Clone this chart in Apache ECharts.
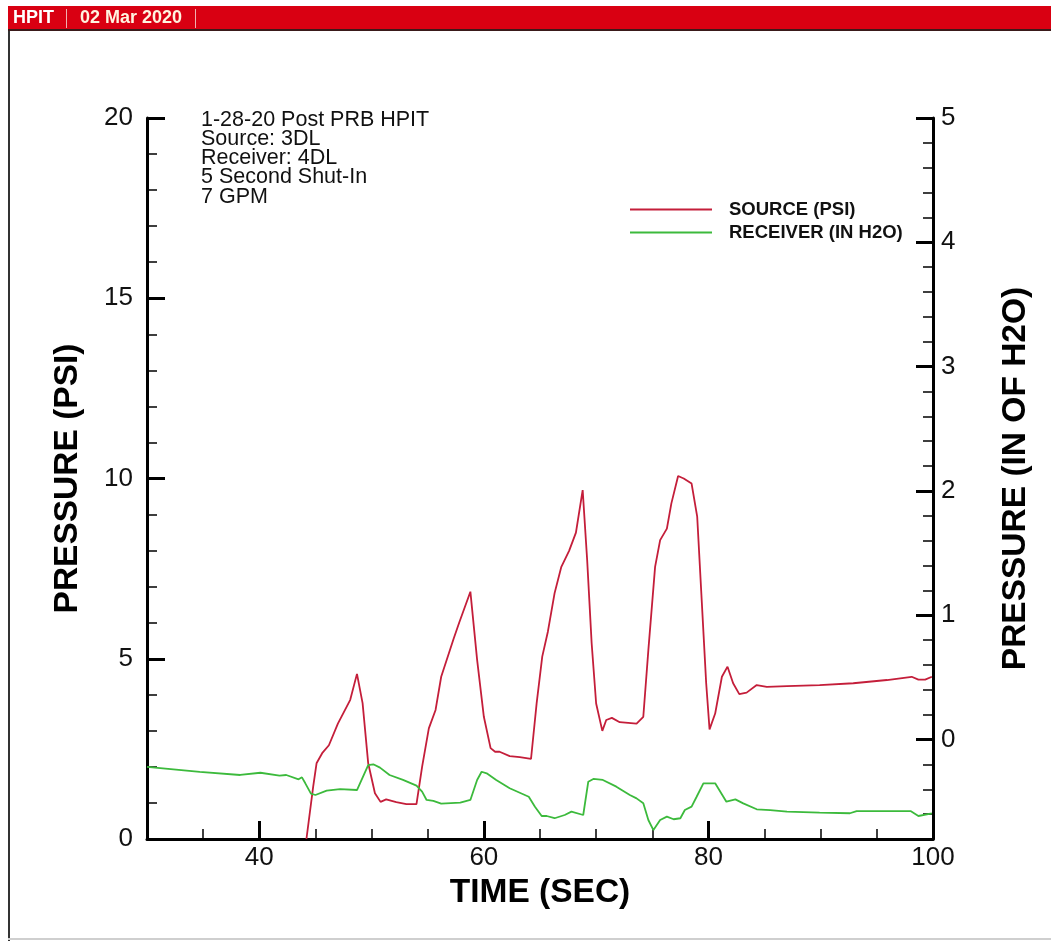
<!DOCTYPE html>
<html>
<head>
<meta charset="utf-8">
<script src="https://cdn.jsdelivr.net/npm/echarts@6/dist/echarts.min.js"></script>
<style>
  html, body { margin: 0; padding: 0; background: #ffffff; }
  #chart { width: 1051px; height: 941px; }
</style>
</head>
<body>
<div id="chart"></div>
<script>
// ---- data ----
const sourceTime = [44.2, 44.8, 45.1, 45.6, 46.2, 47.0, 48.1, 48.7, 49.2, 49.7, 50.3, 50.8, 51.3, 52.2, 53.1, 54.0,
  54.5, 55.1, 55.7, 56.2, 57.3, 57.8, 58.8, 59.4, 60.0, 60.6, 61.0, 61.4, 62.3, 63.2, 64.2,
  64.7, 65.2, 65.7, 66.3, 66.9, 67.6, 68.2, 68.8, 69.2, 69.6, 70.0, 70.55, 70.9, 71.4, 72.1, 73.6,
  74.2, 74.65, 75.25, 75.7, 76.3, 76.7, 77.3, 77.8, 78.5, 79.0, 79.4, 79.8, 80.1, 80.6, 81.2, 81.7,
  82.2, 82.75, 83.4, 84.3, 85.2, 87.0, 89.9, 92.9, 95.9, 98.1, 98.7, 99.3, 99.9];
const sourcePsi = [0.0, 1.45, 2.1, 2.38, 2.6, 3.2, 3.86, 4.58, 3.77, 2.1, 1.27, 1.03, 1.1, 1.02, 0.97, 0.97,
  2.0, 3.07, 3.58, 4.5, 5.55, 6.0, 6.86, 4.97, 3.39, 2.52, 2.42, 2.42, 2.3, 2.27, 2.22,
  3.76, 5.06, 5.75, 6.82, 7.55, 8.0, 8.5, 9.68, 7.74, 5.43, 3.76, 3.0, 3.3, 3.36, 3.24, 3.2,
  3.39, 5.24, 7.55, 8.29, 8.61, 9.31, 10.07, 10.0, 9.86, 8.94, 6.63, 4.32, 3.04, 3.48, 4.5, 4.78,
  4.32, 4.02, 4.06, 4.27, 4.22, 4.24, 4.27, 4.32, 4.41, 4.5, 4.42, 4.42, 4.5];

const receiverTime = [30.0, 34.7, 38.3, 40.1, 41.8, 42.4, 43.5, 43.8, 44.1, 44.6, 45.0, 46.0, 47.2, 48.7,
  49.7, 50.15, 50.75, 51.6, 52.8, 54.0, 54.5, 54.9, 55.5, 56.2, 57.9, 58.8, 59.4, 59.8, 60.25,
  61.1, 62.3, 64.0, 64.55, 65.15, 65.6, 66.3, 67.2, 67.8, 68.85, 69.3, 69.75, 70.6, 71.8, 73.0,
  73.6, 74.2, 74.65, 75.1, 75.7, 76.3, 76.9, 77.5, 77.9, 78.5, 78.95, 79.55, 80.6, 81.6, 82.4,
  83.1, 84.3, 85.5, 87.0, 89.9, 92.6, 93.2, 98.0, 98.7, 99.9];
const receiverH2O = [-0.22, -0.26, -0.285, -0.267, -0.29, -0.285, -0.32, -0.304, -0.352, -0.435, -0.446, -0.411, -0.398, -0.406,
  -0.205, -0.199, -0.226, -0.285, -0.325, -0.371, -0.419, -0.486, -0.494, -0.515, -0.508, -0.486, -0.325, -0.259, -0.272,
  -0.325, -0.392, -0.46, -0.54, -0.615, -0.615, -0.633, -0.607, -0.58, -0.607, -0.339, -0.317, -0.325, -0.379, -0.446,
  -0.473, -0.513, -0.647, -0.728, -0.647, -0.62, -0.641, -0.633, -0.567, -0.54, -0.46, -0.352, -0.352, -0.5, -0.481,
  -0.513, -0.561, -0.567, -0.58, -0.588, -0.593, -0.575, -0.575, -0.615, -0.593];

const seriesNames = ['SOURCE (PSI)', 'RECEIVER (IN H2O)'];
const xMajorTicks = [40, 60, 80, 100];
const xMinorTicks = [35, 45, 50, 55, 65, 70, 75, 85, 90, 95];
const yRightMajorTicks = [0, 1, 2, 3, 4, 5];
const yRightMinorTicks = [-0.6, -0.4, -0.2, 0.2, 0.4, 0.6, 0.8, 1.2, 1.4, 1.6, 1.8, 2.2, 2.4, 2.6, 2.8,
  3.2, 3.4, 3.6, 3.8, 4.2, 4.4, 4.6, 4.8];
const noteLines = ['1-28-20 Post PRB HPIT', 'Source: 3DL', 'Receiver: 4DL', '5 Second Shut-In', '7 GPM'];
const headerTitle = 'HPIT';
const headerDate = '02 Mar 2020';

// ---- chart ----
const FONT = '"Liberation Sans", Arial, Helvetica, sans-serif';
const chart = echarts.init(document.getElementById('chart'), null, { renderer: 'canvas' });

const sourceData = sourceTime.map((t, i) => [t, sourcePsi[i]]);
const receiverData = receiverTime.map((t, i) => [t, receiverH2O[i]]);

const axisLineStyle = { color: '#000', width: 3 };
const titleStyle = { fontFamily: FONT, fontSize: 33.5, fontWeight: 'bold', color: '#000' };

chart.setOption({
  animation: false,
  backgroundColor: '#ffffff',
  textStyle: { fontFamily: FONT },
  grid: { left: 147, right: 118, top: 118, bottom: 102, containLabel: false },
  title: {
    text: noteLines.join('\n'),
    left: 196, top: 105,
    textStyle: { fontFamily: FONT, fontSize: 21.5, fontWeight: 'normal', color: '#111', lineHeight: 19.3 }
  },
  legend: {
    data: seriesNames,
    orient: 'vertical',
    left: 630, top: 200, padding: 0,
    itemWidth: 82, itemHeight: 2, itemGap: 4,
    icon: 'rect',
    textStyle: { fontFamily: FONT, fontSize: 18.5, fontWeight: 'bold', color: '#111', padding: [0, 0, 0, 12] }
  },
  xAxis: [
    {
      type: 'value', min: 30, max: 100, position: 'bottom',
      axisLine: { onZero: false, lineStyle: axisLineStyle },
      axisTick: { inside: true, length: 10, lineStyle: { color: '#000', width: 1.5 }, customValues: xMinorTicks },
      axisLabel: { customValues: xMajorTicks, fontSize: 26, color: '#111', margin: 6, fontFamily: FONT },
      splitLine: { show: false },
      name: 'TIME (SEC)', nameLocation: 'middle', nameGap: 28,
      nameTextStyle: titleStyle
    },
    {
      type: 'value', min: 30, max: 100, position: 'bottom',
      axisLine: { show: false, onZero: false },
      axisTick: { inside: true, length: 18, lineStyle: { color: '#000', width: 3 }, customValues: xMajorTicks },
      axisLabel: { show: false },
      splitLine: { show: false }
    }
  ],
  yAxis: [
    {
      type: 'value', min: 0, max: 20, interval: 5, position: 'left',
      axisLine: { show: true, onZero: false, lineStyle: axisLineStyle },
      axisTick: { show: true, inside: true, length: 18, lineStyle: { color: '#000', width: 3 } },
      minorTick: { show: true, splitNumber: 5, length: 10, lineStyle: { color: '#000', width: 1.5 } },
      axisLabel: { fontSize: 26, color: '#111', margin: 14, fontFamily: FONT },
      splitLine: { show: false },
      name: 'PRESSURE (PSI)', nameLocation: 'middle', nameGap: 62,
      nameTextStyle: titleStyle
    },
    {
      type: 'value', min: -0.8, max: 5, position: 'right',
      axisLine: { show: true, onZero: false, lineStyle: axisLineStyle },
      axisTick: { show: true, inside: true, length: 17, lineStyle: { color: '#000', width: 3 }, customValues: yRightMajorTicks },
      axisLabel: { customValues: yRightMajorTicks, fontSize: 26, color: '#111', margin: 8, fontFamily: FONT },
      splitLine: { show: false },
      name: 'PRESSURE (IN OF H2O)', nameLocation: 'middle', nameGap: 66,
      nameTextStyle: titleStyle
    },
    {
      type: 'value', min: -0.8, max: 5, position: 'right',
      axisLine: { show: false, onZero: false },
      axisTick: { show: true, inside: true, length: 10, lineStyle: { color: '#000', width: 1.5 }, customValues: yRightMinorTicks },
      axisLabel: { show: false },
      splitLine: { show: false }
    }
  ],
  series: [
    {
      name: seriesNames[0], type: 'line', xAxisIndex: 0, yAxisIndex: 0,
      data: sourceData, showSymbol: false, symbol: 'none',
      color: '#c41e3a', lineStyle: { color: '#c41e3a', width: 1.8 }
    },
    {
      name: seriesNames[1], type: 'line', xAxisIndex: 0, yAxisIndex: 1,
      data: receiverData, showSymbol: false, symbol: 'none',
      color: '#3cba3c', lineStyle: { color: '#3cba3c', width: 1.8 }
    }
  ],
  graphic: [
    { type: 'rect', left: 8, top: 6, shape: { width: 1043, height: 24 }, style: { fill: '#d90012' }, z: 10 },
    { type: 'rect', left: 8, top: 29, shape: { width: 1043, height: 2 }, style: { fill: '#3a1a1a' }, z: 11 },
    { type: 'rect', left: 66, top: 9, shape: { width: 1, height: 19 }, style: { fill: '#f0b0b0' }, z: 11 },
    { type: 'rect', left: 195, top: 9, shape: { width: 1, height: 19 }, style: { fill: '#f0b0b0' }, z: 11 },
    { type: 'text', left: 13, top: 9, style: { text: headerTitle, fill: '#ffffff', font: 'bold 18px ' + FONT }, z: 12 },
    { type: 'text', left: 80, top: 9, style: { text: headerDate, fill: '#fff4e0', font: 'bold 18px ' + FONT }, z: 12 },
    { type: 'rect', left: 8, top: 31, shape: { width: 2, height: 910 }, style: { fill: '#333333' }, z: 10 },
    { type: 'rect', left: 8, top: 938, shape: { width: 1043, height: 2 }, style: { fill: '#cfcfcf' }, z: 10 }
  ]
});
</script>
</body>
</html>
